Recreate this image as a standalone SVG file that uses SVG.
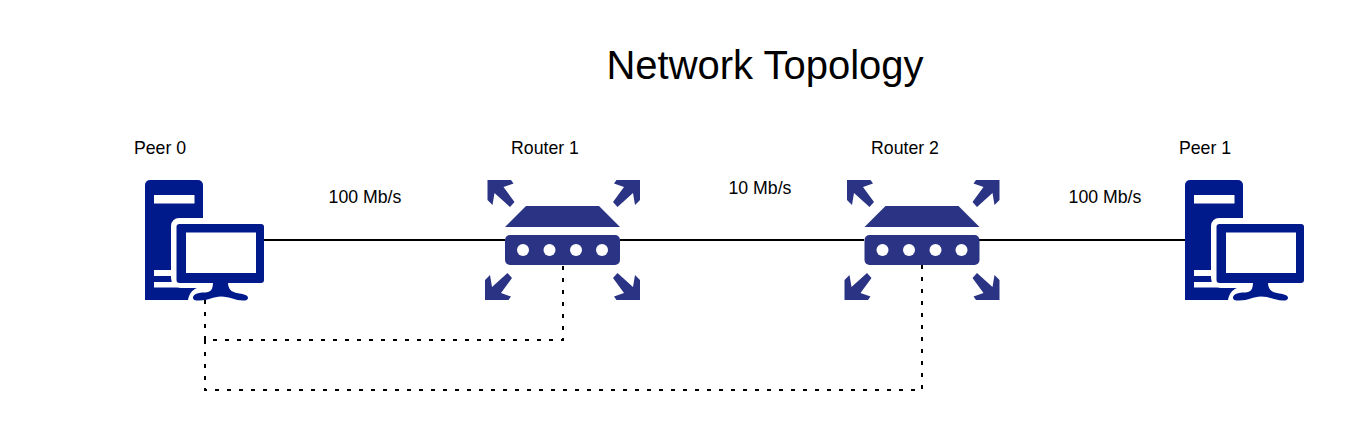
<svg xmlns="http://www.w3.org/2000/svg" width="1365" height="430" viewBox="0 0 1365 430">
<style>
text{font-family:"Liberation Sans",Arial,sans-serif;fill:#000;text-anchor:middle}
.l{font-size:17.700px}
.t{font-size:40px}
.c{fill:#001a8c}
.r{fill:#2b3484}
.w{fill:#fff}
.s{fill:none;stroke:#000;stroke-width:2}
.d{stroke-dasharray:4 8}
</style>
<defs>
<g id="pc">
<path class="c" d="M0 5a5 5 0 0 1 5-5H53a5 5 0 0 1 5 5V120H0Z"/>
<rect class="w" x="9" y="15" width="40.500" height="8.500"/>
<rect class="w" x="9" y="90" width="20" height="6"/>
<rect class="w" x="9" y="102" width="40" height="5.500"/>
<path class="w" d="M26 46a8 8 0 0 1 8-8H70V112H64V120H43C44 114 47 110 52 108H36a10 10 0 0 1-10-10Z"/>
<rect class="c" x="31.500" y="44" width="87.500" height="59" rx="3"/>
<rect class="w" x="41" y="52.500" width="70" height="40.500"/>
<path class="c" d="M68 102H83C83 109 86 112 92 113C98 114 103 115 103 117.500C103 120 101 120.500 98 120.500C90 120.500 85 116.500 76 116.500C68 116.500 64 120.500 54 120.500C50 120.500 48 120 48 118C48 114 53 112.500 60 112.500C66 112.500 68 109 68 102Z"/>
</g>
<path id="ar" class="r" d="M0 0H23.500L26 3.500L16 7L27 22L22.500 27L7 13L5 25L0 20Z"/>
<g id="router">
<path class="r" d="M21 0H94L115 21H0Z"/>
<rect class="r" x="0" y="29" width="115" height="30" rx="5"/>
<circle class="w" cx="18" cy="44" r="6"/>
<circle class="w" cx="44.500" cy="44" r="6"/>
<circle class="w" cx="71" cy="44" r="6"/>
<circle class="w" cx="97" cy="44" r="6"/>
<use href="#ar" transform="translate(-17.500 -26)"/>
<use href="#ar" transform="translate(135 -26) scale(-1 1)"/>
<use href="#ar" transform="translate(-20 94) scale(1 -1)"/>
<use href="#ar" transform="translate(135 94) scale(-1 -1)"/>
</g>
</defs>
<g id="connectors">
<path class="s" d="M264 240H505M620 240H864M979 240H1185"/>
<path class="s d" d="M205 300V340H563V265"/>
<path class="s d" d="M205 340V390H922V265"/>
</g>
<text id="title" class="t" x="765" y="78.500">Network Topology</text>
<g id="peer0"><use href="#pc" x="145" y="180"/><text class="l" x="160" y="153.500">Peer 0</text></g>
<g id="router1"><use href="#router" x="505" y="206"/><text class="l" x="545" y="153.500">Router 1</text></g>
<g id="router2"><use href="#router" x="864.500" y="206"/><text class="l" x="905" y="153.500">Router 2</text></g>
<g id="peer1"><use href="#pc" x="1185" y="180"/><text class="l" x="1205" y="153.500">Peer 1</text></g>
<g id="labels">
<text class="l" x="365" y="203">100 Mb/s</text>
<text class="l" x="760" y="194">10 Mb/s</text>
<text class="l" x="1105" y="203">100 Mb/s</text>
</g>
</svg>
